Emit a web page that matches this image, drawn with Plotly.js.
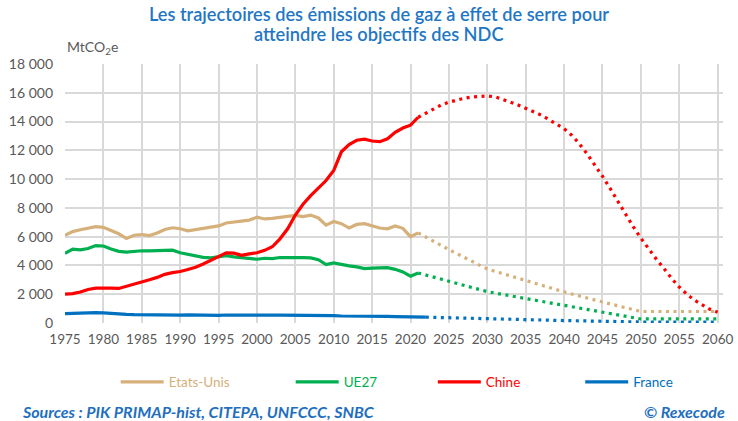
<!DOCTYPE html>
<html>
<head>
<meta charset="utf-8">
<script src="https://cdn.plot.ly/plotly-3.0.1.min.js"></script>
<style>
html,body{margin:0;padding:0;background:#fff;}
#chart{width:738px;height:421px;}
</style>
</head>
<body>
<div id="chart"></div>
<script>
// ---- Data (MtCO2e) ----
const histYears = [1975,1976,1977,1978,1979,1980,1981,1982,1983,1984,1985,1986,1987,1988,1989,1990,1991,1992,1993,1994,1995,1996,1997,1998,1999,2000,2001,2002,2003,2004,2005,2006,2007,2008,2009,2010,2011,2012,2013,2014,2015,2016,2017,2018,2019,2020,2021];
const histYearsFrance = [1975,1976,1977,1978,1979,1980,1981,1982,1983,1984,1985,1986,1987,1988,1989,1990,1991,1992,1993,1994,1995,1996,1997,1998,1999,2000,2001,2002,2003,2004,2005,2006,2007,2008,2009,2010,2011,2012,2013,2014,2015,2016,2017,2018,2019,2020,2021,2022];

const usHist = [6100,6350,6480,6600,6700,6650,6450,6200,5870,6100,6150,6080,6250,6500,6620,6550,6400,6480,6580,6680,6750,6950,7030,7080,7150,7350,7230,7270,7350,7450,7480,7400,7500,7300,6800,7050,6900,6600,6850,6900,6750,6600,6550,6750,6580,6000,6260];
const ueHist = [4850,5130,5080,5180,5380,5350,5150,4980,4930,4980,5020,5010,5020,5000,5060,4880,4780,4650,4560,4530,4580,4680,4600,4550,4450,4430,4500,4480,4550,4570,4540,4540,4520,4400,4060,4180,4050,3970,3900,3780,3820,3840,3850,3730,3550,3250,3480];
const chinaHist = [2000,2040,2150,2330,2420,2440,2420,2400,2540,2700,2860,3000,3170,3380,3500,3580,3720,3870,4100,4350,4650,4870,4850,4700,4800,4880,5050,5300,5850,6550,7500,8250,8850,9350,9900,10600,11900,12400,12700,12780,12650,12600,12800,13250,13550,13750,14300];
const franceHist = [650,680,670,690,720,700,650,620,600,580,570,560,555,550,560,550,570,555,530,525,535,555,545,560,555,550,550,545,550,550,555,545,535,530,505,510,485,490,490,455,460,460,465,445,435,395,420,405];

const projYears = [2021,2025,2030,2035,2040,2045,2050,2060];
const usProj = [6260,5100,3750,2970,2160,1460,800,800];
const ueProj = [3480,2880,2180,1700,1230,780,280,280];
const franceProjYears = [2022,2030,2040,2050,2060];
const franceProj = [405,290,170,70,70];
const chinaProjYears = [2021,2022,2023,2024,2025,2026,2027,2028,2029,2030,2031,2032,2033,2034,2035,2036,2037,2038,2039,2040,2041,2042,2043,2044,2045,2046,2047,2048,2049,2050,2051,2052,2053,2054,2055,2056,2057,2058,2059,2060];
const chinaProj = [14300,14600,14900,15150,15350,15500,15620,15700,15760,15780,15720,15560,15350,15150,14920,14700,14450,14150,13850,13500,13050,12450,11750,11000,10200,9350,8450,7550,6700,5900,5150,4450,3800,3100,2500,2000,1580,1250,950,750];

const seriesNames = ['Etats-Unis','UE27','Chine','France'];
const colors = {us:'#D6B07A', ue:'#00B050', cn:'#FF0000', fr:'#0070C0'};
const xTicks = [1975,1980,1985,1990,1995,2000,2005,2010,2015,2020,2025,2030,2035,2040,2045,2050,2055,2060];
const yTicks = [0,2000,4000,6000,8000,10000,12000,14000,16000,18000];
const titleLines = ['Les trajectoires des émissions de gaz à effet de serre pour','atteindre les objectifs des NDC'];

const LW = 3.2;
const DOT = '3px,4.5px';

function solid(x,y,color,name,legend){
  return {x:x,y:y,type:'scatter',mode:'lines',name:name,legend:legend,
    line:{color:color,width:LW,shape:'linear'},hoverinfo:'skip'};
}
function dotted(x,y,color){
  return {x:x,y:y,type:'scatter',mode:'lines',showlegend:false,
    line:{color:color,width:LW,dash:DOT},hoverinfo:'skip'};
}

const traces = [
  dotted(projYears,usProj,colors.us),
  dotted(projYears,ueProj,colors.ue),
  dotted(chinaProjYears,chinaProj,colors.cn),
  dotted(franceProjYears,franceProj,colors.fr),
  solid(histYears,usHist,colors.us,seriesNames[0],'legend'),
  solid(histYears,ueHist,colors.ue,seriesNames[1],'legend2'),
  solid(histYears,chinaHist,colors.cn,seriesNames[2],'legend3'),
  solid(histYearsFrance,franceHist,colors.fr,seriesNames[3],'legend4')
];

const FONT = 'Lato, "Open Sans", sans-serif';
function leg(x,color){
  return {x:x,y:-0.228,xanchor:'left',yanchor:'middle',orientation:'h',
    bgcolor:'rgba(0,0,0,0)',itemwidth:43,
    font:{family:FONT,size:13.5,color:color},tracegroupgap:0};
}
const titleFont = {family:FONT,size:18.2,color:'#1F77C4',weight:600};

const layout = {
  width:738,height:421,
  margin:{l:65,r:15,t:64,b:98},
  paper_bgcolor:'#ffffff',plot_bgcolor:'#ffffff',
  separators:', ',
  font:{family:FONT,size:14,color:'#595959'},
  xaxis:{range:[1975,2060.7],tickvals:xTicks,ticktext:xTicks.map(String),
    showgrid:true,gridcolor:'#D9D9D9',gridwidth:2,zeroline:false,
    showline:false,ticks:'',ticklabelstandoff:6,tickfont:{family:FONT,size:13.5,color:'#595959'},fixedrange:true},
  yaxis:{range:[0,18000],tickvals:yTicks,tickformat:',.0f',
    showgrid:true,gridcolor:'#D9D9D9',gridwidth:2,zeroline:false,
    showline:false,ticks:'',ticklabelstandoff:11,tickfont:{family:FONT,size:14,color:'#595959'},fixedrange:true},
  showlegend:true,
  legend:leg(0.077,colors.us),
  legend2:leg(0.343,colors.ue),
  legend3:leg(0.559,colors.cn),
  legend4:leg(0.783,colors.fr),
  annotations:[
    {text:titleLines[0],xref:'paper',yref:'paper',x:0.477,y:(323-14)/259,xanchor:'center',yanchor:'middle',
      showarrow:false,font:titleFont},
    {text:titleLines[1],xref:'paper',yref:'paper',x:0.477,y:(323-34)/259,xanchor:'center',yanchor:'middle',
      showarrow:false,font:titleFont},
    {text:'MtCO<sub>2</sub>e',xref:'paper',yref:'paper',x:0.0,y:1.062,xanchor:'left',yanchor:'middle',
      showarrow:false,font:{family:FONT,size:14,color:'#595959'}},
    {text:'<b><i>Sources : PIK PRIMAP-hist, CITEPA, UNFCCC, SNBC</i></b>',xref:'paper',yref:'paper',
      x:-0.0684,y:-0.34,xanchor:'left',yanchor:'middle',showarrow:false,
      font:{family:FONT,size:16,color:'#1F6FC0'}},
    {text:'<b><i>© Rexecode</i></b>',xref:'paper',yref:'paper',
      x:1.006,y:-0.34,xanchor:'right',yanchor:'middle',showarrow:false,
      font:{family:FONT,size:16,color:'#1F6FC0'}}
  ]
};

Plotly.newPlot('chart',traces,layout,{displayModeBar:false,staticPlot:true});
</script>
</body>
</html>
